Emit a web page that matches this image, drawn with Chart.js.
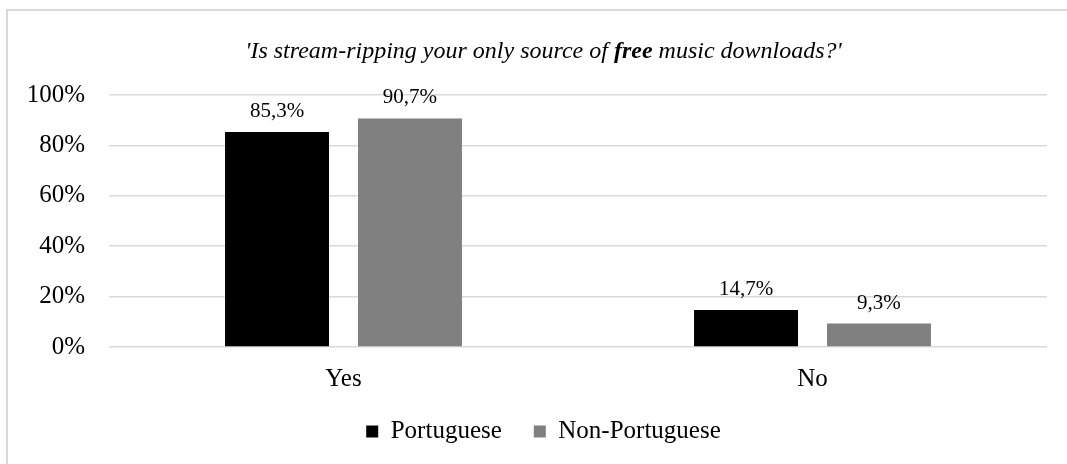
<!DOCTYPE html>
<html>
<head>
<meta charset="utf-8">
<script src="https://cdn.jsdelivr.net/npm/chart.js@4.4.0/dist/chart.umd.min.js"></script>
<style>
  html, body { margin: 0; padding: 0; background: #fff; overflow: hidden; }
  .frame { position: absolute; left: 6px; top: 9px; width: 1100px; height: 500px; border: 2px solid #d9d9d9; box-sizing: border-box; }
  .wrap { position: absolute; left: 0; top: 0; width: 1067px; height: 464px; }
</style>
</head>
<body>
<div class="frame"></div>
<div class="wrap"><canvas id="myChart"></canvas></div>
<script>
var categories = ['Yes', 'No']
var seriesNames = ['Portuguese', 'Non-Portuguese']
var portuguese = [85.3, 14.7]
var nonPortuguese = [90.7, 9.3]
var barColors = ['#000000', '#808080']
var yTicks = [0, 20, 40, 60, 80, 100]

// title has one bold word, so it is drawn in pieces
var titleParts = [
  { text: "'Is stream-ripping your only source of ", bold: false },
  { text: 'free', bold: true },
  { text: " music downloads?'", bold: false },
]

var serif = '"Liberation Serif", "Times New Roman", serif'

function pct(v) {
  return v.toFixed(1).replace('.', ',') + '%'
}

// legend + title sit a bit right of the plot centre
const legendShift = {
  id: 'legendShift',
  afterLayout(chart) {
    chart.legend.left += 10
    chart.legend.right += 10
  },
}

const titlePlugin = {
  id: 'mixedTitle',
  afterDraw(chart) {
    const ctx = chart.ctx
    const size = 24
    ctx.save()
    ctx.fillStyle = '#000'
    ctx.textBaseline = 'alphabetic'
    ctx.textAlign = 'left'
    let total = 0
    titleParts.forEach(p => {
      ctx.font = 'italic ' + (p.bold ? 'bold ' : '') + size + 'px ' + serif
      p.w = ctx.measureText(p.text).width
      total += p.w
    })
    let x = (chart.legend.left + chart.legend.right) / 2 - total / 2
    titleParts.forEach(p => {
      ctx.font = 'italic ' + (p.bold ? 'bold ' : '') + size + 'px ' + serif
      ctx.fillText(p.text, x, 58)
      x += p.w
    })
    ctx.restore()
  },
}

const valueLabels = {
  id: 'valueLabels',
  afterDatasetsDraw(chart) {
    const ctx = chart.ctx
    ctx.save()
    ctx.font = '21px ' + serif
    ctx.fillStyle = '#000'
    ctx.textAlign = 'center'
    ctx.textBaseline = 'alphabetic'
    chart.data.datasets.forEach((ds, i) => {
      chart.getDatasetMeta(i).data.forEach((bar, j) => {
        ctx.fillText(pct(ds.data[j]), bar.x, bar.y - 15)
      })
    })
    ctx.restore()
  },
}

new Chart('myChart', {
  type: 'bar',
  data: {
    labels: categories,
    datasets: [
      {
        label: seriesNames[0],
        data: portuguese,
        backgroundColor: barColors[0],
        categoryPercentage: 0.567,
        barPercentage: 0.782,
      },
      {
        label: seriesNames[1],
        data: nonPortuguese,
        backgroundColor: barColors[1],
        categoryPercentage: 0.567,
        barPercentage: 0.782,
      },
    ],
  },
  plugins: [legendShift, titlePlugin, valueLabels],
  options: {
    responsive: true,
    maintainAspectRatio: false,
    animation: false,
    layout: { padding: { left: 20, right: 20, top: 95, bottom: 10 } },
    plugins: {
      title: { display: false },
      tooltip: { enabled: false },
      legend: {
        position: 'bottom',
        labels: {
          boxWidth: 12,
          boxHeight: 12,
          padding: 32,
          color: '#000',
          font: { family: serif, size: 25 },
        },
      },
    },
    scales: {
      x: {
        grid: { display: false },
        border: { display: false },
        ticks: { color: '#000', padding: 9, font: { family: serif, size: 25 } },
        afterFit: s => { s.height = 40 },
      },
      y: {
        min: 0,
        max: 100,
        afterBuildTicks: s => { s.ticks = yTicks.map(v => ({ value: v })) },
        grid: { color: '#d9d9d9', lineWidth: 1.5, drawTicks: false },
        border: { display: false },
        ticks: {
          color: '#000',
          padding: 24,
          font: { family: serif, size: 25 },
          callback: v => v + '%',
        },
        afterFit: s => { s.width = 89 },
      },
    },
  },
})
</script>
</body>
</html>
